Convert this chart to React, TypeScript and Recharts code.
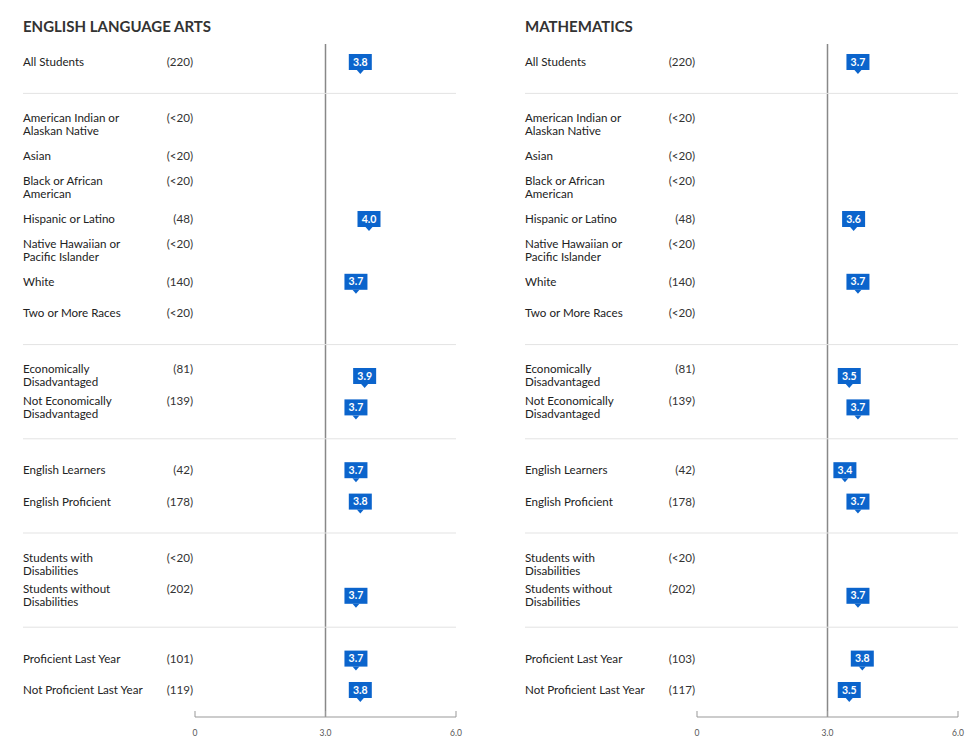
import { ReferenceLine, Scatter, ScatterChart, XAxis, YAxis } from "recharts"

// one entry per row, "" marks the divider rows between groups
const rowLabels = [
  "All Students",
  "",
  "American Indian or\nAlaskan Native",
  "Asian",
  "Black or African\nAmerican",
  "Hispanic or Latino",
  "Native Hawaiian or\nPacific Islander",
  "White",
  "Two or More Races",
  "",
  "Economically\nDisadvantaged",
  "Not Economically\nDisadvantaged",
  "",
  "English Learners",
  "English Proficient",
  "",
  "Students with\nDisabilities",
  "Students without\nDisabilities",
  "",
  "Proficient Last Year",
  "Not Proficient Last Year",
]

const elaCounts = [
  "(220)", "", "(<20)", "(<20)", "(<20)", "(48)", "(<20)", "(140)", "(<20)", "",
  "(81)", "(139)", "", "(42)", "(178)", "", "(<20)", "(202)", "", "(101)", "(119)",
]
const elaScores = [
  3.8, null, null, null, null, 4.0, null, 3.7, null, null,
  3.9, 3.7, null, 3.7, 3.8, null, null, 3.7, null, 3.7, 3.8,
]

const mathCounts = [
  "(220)", "", "(<20)", "(<20)", "(<20)", "(48)", "(<20)", "(140)", "(<20)", "",
  "(81)", "(139)", "", "(42)", "(178)", "", "(<20)", "(202)", "", "(103)", "(117)",
]
const mathScores = [
  3.7, null, null, null, null, 3.6, null, 3.7, null, null,
  3.5, 3.7, null, 3.4, 3.7, null, null, 3.7, null, 3.8, 3.5,
]

const xTicks = [0, 3, 6]

const W = 480
const H = 755
const LABEL_X = 23
const COUNT_X = 193
const PLOT_RIGHT = 456
const BLUE = "#0b64cc"

function Marker(props: any) {
  const { cx, cy, payload } = props
  if (cx == null || cy == null) return null
  const w = 23
  const top = cy - 8
  const h = 16
  return (
    <g>
      <rect x={cx - w / 2} y={top} width={w} height={h} fill={BLUE} />
      <path d={`M${cx - 3.5},${top + h} L${cx},${top + h + 4} L${cx + 3.5},${top + h} Z`} fill={BLUE} />
      <text
        x={cx}
        y={top + h / 2 + 3.7}
        textAnchor="middle"
        fill="#fff"
        fontSize={10.5}
        fontWeight={700}
        fontFamily="Lato, sans-serif"
      >
        {payload.score.toFixed(1)}
      </text>
    </g>
  )
}

function Panel({ title, counts, scores }: { title: string; counts: string[]; scores: (number | null)[] }) {
  const data = rowLabels
    .map((label, i) => ({ row: i, label, score: scores[i] }))
    .filter((d) => d.score != null)

  const RowTick = (props: any) => {
    const { y, payload } = props
    const i = payload.value
    const label = rowLabels[i]
    if (!label) {
      return <line x1={LABEL_X} x2={PLOT_RIGHT} y1={y} y2={y} stroke="#e3e3e3" strokeWidth={1} />
    }
    const lines = label.split("\n")
    const firstY = y - ((lines.length - 1) * 13) / 2
    return (
      <g fontFamily="Lato, sans-serif" fontSize={11.6}>
        {lines.map((ln, k) => (
          <text key={k} x={LABEL_X} y={firstY + k * 13 + 4} fill="#222" textAnchor="start">
            {ln}
          </text>
        ))}
        <text x={COUNT_X} y={firstY + 4} fill="#333" textAnchor="end">
          {counts[i]}
        </text>
      </g>
    )
  }

  const ValueTick = (props: any) => {
    const { x, y, payload } = props
    const v = payload.value
    return (
      <g>
        <line x1={x} x2={x} y1={y - 6} y2={y} stroke="#999" strokeWidth={1} />
        <text x={x} y={y + 19} textAnchor="middle" fontSize={8.5} fill="#555" fontFamily="Lato, sans-serif">
          {v === 0 ? "0" : v.toFixed(1)}
        </text>
      </g>
    )
  }

  return (
    <div style={{ position: "relative", width: W, height: H }}>
      <div
        style={{
          position: "absolute",
          left: LABEL_X,
          top: 17,
          fontFamily: "Lato, sans-serif",
          fontWeight: 700,
          fontSize: 15,
          lineHeight: "18px",
          color: "#333",
        }}
      >
        {title}
      </div>
      <ScatterChart width={W} height={H} margin={{ top: 44, right: W - PLOT_RIGHT, bottom: 0, left: 0 }}>
        <XAxis
          type="number"
          dataKey="score"
          domain={[0, 6]}
          ticks={xTicks}
          interval={0}
          height={38}
          tickSize={0}
          tickMargin={0}
          tickLine={false}
          axisLine={{ stroke: "#999", strokeWidth: 1 }}
          tick={<ValueTick />}
        />
        <YAxis
          type="number"
          dataKey="row"
          reversed
          domain={[-0.573, 20.86]}
          allowDataOverflow
          ticks={rowLabels.map((_, i) => i)}
          interval={0}
          width={195}
          tickLine={false}
          axisLine={false}
          tick={<RowTick />}
        />
        <ReferenceLine x={3} stroke="#888" strokeWidth={1.5} />
        <Scatter data={data} shape={<Marker />} isAnimationActive={false} />
      </ScatterChart>
    </div>
  )
}

export default function App() {
  return (
    <div style={{ position: "absolute", top: 0, left: 0, width: 978, height: 755, background: "#fff" }}>
      <div style={{ position: "absolute", left: 0, top: 0 }}>
        <Panel title="ENGLISH LANGUAGE ARTS" counts={elaCounts} scores={elaScores} />
      </div>
      <div style={{ position: "absolute", left: 502, top: 0 }}>
        <Panel title="MATHEMATICS" counts={mathCounts} scores={mathScores} />
      </div>
    </div>
  )
}
